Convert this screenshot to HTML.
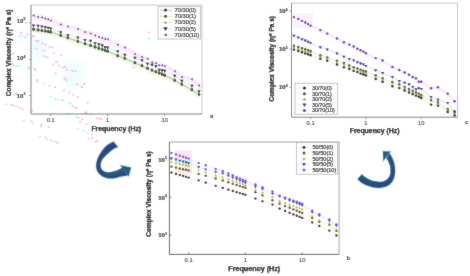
<!DOCTYPE html>
<html><head><meta charset="utf-8"><style>
html,body{margin:0;padding:0;background:#fff;}
svg{display:block;}
text{font-family:"Liberation Sans",Arial,sans-serif;fill:#222;}
.tk{font-size:6px;fill:#222;font-weight:bold;stroke:#222;stroke-width:0.12px;}
.sup{font-size:3.4px;}
.xk{font-weight:normal;font-size:5.8px;fill:#333;stroke:#333;stroke-width:0.1px;}
.ttl{font-size:6.9px;font-weight:bold;fill:#000;stroke:#000;stroke-width:0.25px;}
.yt{font-size:6.5px;}
.lg{font-size:5.6px;fill:#111;stroke:#111;stroke-width:0.15px;}
.lab{font-size:6px;font-weight:bold;fill:#111;}
</style></head><body>
<svg width="470" height="276" viewBox="0 0 470 276">
<defs><filter id="soft" x="0" y="0" width="470" height="276" filterUnits="userSpaceOnUse"><feConvolveMatrix order="3" kernelMatrix="1 2 1 2 28 2 1 2 1" divisor="40" edgeMode="duplicate"/></filter></defs>
<g filter="url(#soft)">
<rect width="470" height="276" fill="#fff"/>
<defs><filter id="gb" x="-20%" y="-20%" width="140%" height="140%"><feGaussianBlur stdDeviation="0.5"/></filter><filter id="gb2" x="-50%" y="-50%" width="200%" height="200%"><feGaussianBlur stdDeviation="3"/></filter></defs><g opacity="0.9" filter="url(#gb)">
<g filter="url(#gb2)"><rect x="16" y="34" width="14" height="5" fill="#e0fafa"/><rect x="32" y="38" width="14" height="20" fill="#e8fcfc"/><rect x="62" y="62" width="22" height="26" fill="#ecfcfc"/></g>
<ellipse cx="9" cy="54" rx="1.4" ry="0.9" fill="#a8f0f4"/>
<ellipse cx="12" cy="54" rx="1.4" ry="0.9" fill="#a8f0f4"/>
<ellipse cx="14" cy="65.7" rx="1.4" ry="0.9" fill="#a8f0f4"/>
<ellipse cx="17" cy="65.7" rx="1.4" ry="0.9" fill="#a8f0f4"/>
<ellipse cx="19.5" cy="65.9" rx="1.4" ry="0.9" fill="#a8f0f4"/>
<ellipse cx="29" cy="68.8" rx="1.4" ry="0.9" fill="#a8f0f4"/>
<ellipse cx="35.5" cy="70.2" rx="1.4" ry="0.9" fill="#a8f0f4"/>
<ellipse cx="37.7" cy="81.1" rx="1.4" ry="0.9" fill="#a8f0f4"/>
<ellipse cx="37.6" cy="81.7" rx="1.4" ry="0.9" fill="#a8f0f4"/>
<ellipse cx="44.1" cy="83.5" rx="1.4" ry="0.9" fill="#a8f0f4"/>
<ellipse cx="49.6" cy="85.7" rx="1.4" ry="0.9" fill="#a8f0f4"/>
<ellipse cx="50.7" cy="96.5" rx="1.4" ry="0.9" fill="#a8f0f4"/>
<ellipse cx="55" cy="98.7" rx="1.4" ry="0.9" fill="#a8f0f4"/>
<ellipse cx="58.3" cy="99.6" rx="1.4" ry="0.9" fill="#a8f0f4"/>
<ellipse cx="69.1" cy="103.5" rx="1.4" ry="0.9" fill="#a8f0f4"/>
<ellipse cx="68" cy="113.9" rx="1.4" ry="0.9" fill="#a8f0f4"/>
<ellipse cx="76.7" cy="117" rx="1.4" ry="0.9" fill="#a8f0f4"/>
<ellipse cx="6.5" cy="104.1" rx="1.4" ry="0.9" fill="#a8f0f4"/>
<ellipse cx="23.9" cy="120.7" rx="1.4" ry="0.9" fill="#a8f0f4"/>
<ellipse cx="32.6" cy="123.3" rx="1.4" ry="0.9" fill="#a8f0f4"/>
<ellipse cx="41.3" cy="126.5" rx="1.4" ry="0.9" fill="#a8f0f4"/>
<ellipse cx="40.2" cy="136.7" rx="1.4" ry="0.9" fill="#a8f0f4"/>
<ellipse cx="46.7" cy="139.6" rx="1.4" ry="0.9" fill="#a8f0f4"/>
<ellipse cx="54.3" cy="141.7" rx="1.4" ry="0.9" fill="#a8f0f4"/>
<ellipse cx="70.2" cy="103.3" rx="1.4" ry="0.9" fill="#a8f0f4"/>
<ellipse cx="69.1" cy="113.5" rx="1.4" ry="0.9" fill="#a8f0f4"/>
<ellipse cx="78.9" cy="117.8" rx="1.4" ry="0.9" fill="#a8f0f4"/>
<ellipse cx="77.8" cy="128.7" rx="1.4" ry="0.9" fill="#a8f0f4"/>
<ellipse cx="83.3" cy="130.4" rx="1.4" ry="0.9" fill="#a8f0f4"/>
<ellipse cx="87.6" cy="132.6" rx="1.4" ry="0.9" fill="#a8f0f4"/>
<ellipse cx="92" cy="134.3" rx="1.4" ry="0.9" fill="#a8f0f4"/>
<ellipse cx="57.2" cy="142.4" rx="1.4" ry="0.9" fill="#a8f0f4"/>
<ellipse cx="149" cy="38.5" rx="1.4" ry="0.9" fill="#a8f0f4"/>
<ellipse cx="14" cy="95" rx="1.4" ry="0.9" fill="#a8f0f4"/>
<ellipse cx="17" cy="95" rx="1.4" ry="0.9" fill="#a8f0f4"/>
<ellipse cx="20" cy="36" rx="1.4" ry="0.9" fill="#a8f0f4"/>
<ellipse cx="25" cy="37" rx="1.4" ry="0.9" fill="#a8f0f4"/>
<ellipse cx="26" cy="22.9" rx="1.3" ry="0.9" fill="#ffb0e8"/>
<ellipse cx="21" cy="32.8" rx="1.3" ry="0.9" fill="#ffb0e8"/>
<ellipse cx="27.5" cy="34.5" rx="1.3" ry="0.9" fill="#ffb0e8"/>
<ellipse cx="34" cy="36" rx="1.3" ry="0.9" fill="#ffb0e8"/>
<ellipse cx="36.2" cy="41" rx="1.3" ry="0.9" fill="#ffb0e8"/>
<ellipse cx="13.8" cy="53.3" rx="1.3" ry="0.9" fill="#ffb0e8"/>
<ellipse cx="32.9" cy="36.5" rx="1.3" ry="0.9" fill="#ffb0e8"/>
<ellipse cx="38" cy="40.9" rx="1.3" ry="0.9" fill="#ffb0e8"/>
<ellipse cx="42.3" cy="43.3" rx="1.3" ry="0.9" fill="#ffb0e8"/>
<ellipse cx="45.7" cy="44.8" rx="1.3" ry="0.9" fill="#ffb0e8"/>
<ellipse cx="49.6" cy="46.7" rx="1.3" ry="0.9" fill="#ffb0e8"/>
<ellipse cx="52.5" cy="47.4" rx="1.3" ry="0.9" fill="#ffb0e8"/>
<ellipse cx="36.5" cy="48.6" rx="1.3" ry="0.9" fill="#ffb0e8"/>
<ellipse cx="43.8" cy="50.6" rx="1.3" ry="0.9" fill="#ffb0e8"/>
<ellipse cx="53.9" cy="52.9" rx="1.3" ry="0.9" fill="#ffb0e8"/>
<ellipse cx="61.2" cy="54.9" rx="1.3" ry="0.9" fill="#ffb0e8"/>
<ellipse cx="44.5" cy="56.4" rx="1.3" ry="0.9" fill="#ffb0e8"/>
<ellipse cx="47.4" cy="57.5" rx="1.3" ry="0.9" fill="#ffb0e8"/>
<ellipse cx="56.1" cy="61.9" rx="1.3" ry="0.9" fill="#ffb0e8"/>
<ellipse cx="53.2" cy="64.5" rx="1.3" ry="0.9" fill="#ffb0e8"/>
<ellipse cx="59" cy="65.5" rx="1.3" ry="0.9" fill="#ffb0e8"/>
<ellipse cx="64.8" cy="67" rx="1.3" ry="0.9" fill="#ffb0e8"/>
<ellipse cx="34.3" cy="68.8" rx="1.3" ry="0.9" fill="#ffb0e8"/>
<ellipse cx="12.3" cy="64" rx="1.3" ry="0.9" fill="#ffb0e8"/>
<ellipse cx="29" cy="67.3" rx="1.3" ry="0.9" fill="#ffb0e8"/>
<ellipse cx="34.8" cy="68.8" rx="1.3" ry="0.9" fill="#ffb0e8"/>
<ellipse cx="37" cy="80" rx="1.3" ry="0.9" fill="#ffb0e8"/>
<ellipse cx="16" cy="93.4" rx="1.3" ry="0.9" fill="#ffb0e8"/>
<ellipse cx="57.2" cy="62.2" rx="1.3" ry="0.9" fill="#ffb0e8"/>
<ellipse cx="62.6" cy="67.6" rx="1.3" ry="0.9" fill="#ffb0e8"/>
<ellipse cx="67" cy="69.8" rx="1.3" ry="0.9" fill="#ffb0e8"/>
<ellipse cx="72.4" cy="70.9" rx="1.3" ry="0.9" fill="#ffb0e8"/>
<ellipse cx="75.7" cy="71.3" rx="1.3" ry="0.9" fill="#ffb0e8"/>
<ellipse cx="55.7" cy="73.5" rx="1.3" ry="0.9" fill="#ffb0e8"/>
<ellipse cx="64.8" cy="78.5" rx="1.3" ry="0.9" fill="#ffb0e8"/>
<ellipse cx="55" cy="87.2" rx="1.3" ry="0.9" fill="#ffb0e8"/>
<ellipse cx="63.7" cy="90.4" rx="1.3" ry="0.9" fill="#ffb0e8"/>
<ellipse cx="69.1" cy="92.6" rx="1.3" ry="0.9" fill="#ffb0e8"/>
<ellipse cx="73.5" cy="94.8" rx="1.3" ry="0.9" fill="#ffb0e8"/>
<ellipse cx="77.8" cy="97" rx="1.3" ry="0.9" fill="#ffb0e8"/>
<ellipse cx="84.3" cy="83.9" rx="1.3" ry="0.9" fill="#ffb0e8"/>
<ellipse cx="62.6" cy="100.2" rx="1.3" ry="0.9" fill="#ffb0e8"/>
<ellipse cx="72.4" cy="106" rx="1.3" ry="0.9" fill="#ffb0e8"/>
<ellipse cx="76.7" cy="107.8" rx="1.3" ry="0.9" fill="#ffb0e8"/>
<ellipse cx="85.4" cy="112.2" rx="1.3" ry="0.9" fill="#ffb0e8"/>
<ellipse cx="32.2" cy="110.4" rx="1.3" ry="0.9" fill="#ffb0e8"/>
<ellipse cx="66.5" cy="80" rx="1.3" ry="0.9" fill="#ffb0e8"/>
<ellipse cx="77.4" cy="84.3" rx="1.3" ry="0.9" fill="#ffb0e8"/>
<ellipse cx="81.7" cy="87" rx="1.3" ry="0.9" fill="#ffb0e8"/>
<ellipse cx="10.9" cy="104.8" rx="1.3" ry="0.9" fill="#ffb0e8"/>
<ellipse cx="13" cy="105.4" rx="1.3" ry="0.9" fill="#ffb0e8"/>
<ellipse cx="16.3" cy="106.3" rx="1.3" ry="0.9" fill="#ffb0e8"/>
<ellipse cx="19.6" cy="107.6" rx="1.3" ry="0.9" fill="#ffb0e8"/>
<ellipse cx="22.8" cy="109.1" rx="1.3" ry="0.9" fill="#ffb0e8"/>
<ellipse cx="31.5" cy="110.7" rx="1.3" ry="0.9" fill="#ffb0e8"/>
<ellipse cx="31.5" cy="121.1" rx="1.3" ry="0.9" fill="#ffb0e8"/>
<ellipse cx="41.3" cy="124.3" rx="1.3" ry="0.9" fill="#ffb0e8"/>
<ellipse cx="48.9" cy="127.2" rx="1.3" ry="0.9" fill="#ffb0e8"/>
<ellipse cx="45.7" cy="137.4" rx="1.3" ry="0.9" fill="#ffb0e8"/>
<ellipse cx="51.1" cy="140.7" rx="1.3" ry="0.9" fill="#ffb0e8"/>
<ellipse cx="57.6" cy="142.8" rx="1.3" ry="0.9" fill="#ffb0e8"/>
<ellipse cx="75.7" cy="107.6" rx="1.3" ry="0.9" fill="#ffb0e8"/>
<ellipse cx="87.6" cy="102.6" rx="1.3" ry="0.9" fill="#ffb0e8"/>
<ellipse cx="86.5" cy="113.5" rx="1.3" ry="0.9" fill="#ffb0e8"/>
<ellipse cx="90.9" cy="114.1" rx="1.3" ry="0.9" fill="#ffb0e8"/>
<ellipse cx="82.2" cy="119.6" rx="1.3" ry="0.9" fill="#ffb0e8"/>
<ellipse cx="97.4" cy="118.5" rx="1.3" ry="0.9" fill="#ffb0e8"/>
<ellipse cx="101.7" cy="119.1" rx="1.3" ry="0.9" fill="#ffb0e8"/>
<ellipse cx="80" cy="122.2" rx="1.3" ry="0.9" fill="#ffb0e8"/>
<ellipse cx="86.5" cy="124.3" rx="1.3" ry="0.9" fill="#ffb0e8"/>
<ellipse cx="88.7" cy="139.1" rx="1.3" ry="0.9" fill="#ffb0e8"/>
<ellipse cx="95.2" cy="141.7" rx="1.3" ry="0.9" fill="#ffb0e8"/>
<ellipse cx="133.5" cy="67.5" rx="1.3" ry="0.9" fill="#ffb0e8"/>
<ellipse cx="149" cy="32.3" rx="1.3" ry="0.9" fill="#ffb0e8"/>
<ellipse cx="100" cy="118.7" rx="1.3" ry="0.9" fill="#ffb0e8"/>
<ellipse cx="97" cy="141" rx="1.3" ry="0.9" fill="#ffb0e8"/>
<ellipse cx="92" cy="138" rx="1.3" ry="0.9" fill="#ffb0e8"/>
</g>
<polyline points="33.54,16.10 38.05,17.50 41.87,18.00 45.18,18.90 48.09,19.80 50.70,20.90 60.74,24.90 67.86,26.90 77.90,29.50 85.02,32.50 90.54,34.00 95.05,36.00 98.87,37.50 102.18,38.40 105.09,39.40 107.70,39.80 117.74,45.20 124.86,48.10 134.90,54.50 142.02,57.50 147.54,59.30 152.05,63.00 155.87,63.80 159.18,65.80 162.09,65.80 164.70,66.50 174.74,71.80 181.86,77.40 191.90,79.80 199.02,86.00" fill="none" stroke="#fcf0fa" stroke-width="6" stroke-linejoin="round" stroke-linecap="round"/>
<polyline points="33.54,31.00 38.05,31.71 41.87,32.31 45.18,32.83 48.09,33.29 50.70,33.70 60.74,37.15 67.86,39.60 77.90,43.05 85.02,45.50 90.54,47.30 95.05,48.77 98.87,50.02 102.18,51.10 105.09,52.05 107.70,52.90 117.74,57.50 124.86,60.10 134.90,64.50 142.02,67.50 147.54,70.10 152.05,71.91 155.87,73.45 159.18,74.78 162.09,75.95 164.70,77.00 174.74,82.10 181.86,86.00 191.90,91.50 199.02,96.10" fill="none" stroke="#f4f9ea" stroke-width="4" stroke-linejoin="round" stroke-linecap="round"/>
<polyline points="33.54,29.50 38.05,30.21 41.87,30.81 45.18,31.33 48.09,31.79 50.70,32.20 60.74,35.65 67.86,38.10 77.90,41.55 85.02,44.00 90.54,45.80 95.05,47.27 98.87,48.52 102.18,49.60 105.09,50.55 107.70,51.40 117.74,56.00 124.86,58.60 134.90,63.00 142.02,66.00 147.54,68.60 152.05,70.41 155.87,71.95 159.18,73.28 162.09,74.45 164.70,75.50 174.74,80.60 181.86,84.50 191.90,90.00 199.02,94.60" fill="none" stroke="#999" stroke-width="0.6"/>
<polyline points="33.54,28.80 38.05,29.51 41.87,30.11 45.18,30.63 48.09,31.09 50.70,31.50 60.74,34.95 67.86,37.40 77.90,40.85 85.02,43.30 90.54,45.10 95.05,46.57 98.87,47.82 102.18,48.90 105.09,49.85 107.70,50.70 117.74,55.30 124.86,57.90 134.90,62.30 142.02,65.30 147.54,67.90 152.05,69.71 155.87,71.25 159.18,72.58 162.09,73.75 164.70,74.80 174.74,79.90 181.86,83.80 191.90,89.30 199.02,93.90" fill="none" stroke="#b8c8a0" stroke-width="0.6"/>
<polyline points="33.54,28.20 38.05,28.91 41.87,29.51 45.18,30.03 48.09,30.49 50.70,30.90 60.74,34.35 67.86,36.80 77.90,40.25 85.02,42.70 90.54,44.50 95.05,45.97 98.87,47.22 102.18,48.30 105.09,49.25 107.70,50.10 117.74,54.70 124.86,57.30 134.90,61.70 142.02,64.70 147.54,67.30 152.05,69.11 155.87,70.65 159.18,71.98 162.09,73.15 164.70,74.20 174.74,79.30 181.86,83.20 191.90,88.70 199.02,93.30" fill="none" stroke="#d8eab8" stroke-width="0.6"/>
<polyline points="33.54,25.60 38.05,26.00 41.87,26.60 45.18,27.20 48.09,27.80 50.70,28.60 60.74,32.30 67.86,35.10 77.90,37.60 85.02,40.10 90.54,41.00 95.05,43.30 98.87,44.40 102.18,45.40 105.09,47.20 107.70,47.70 117.74,51.50 124.86,55.00 134.90,58.00 142.02,60.50 147.54,64.00 152.05,65.00 155.87,66.50 159.18,70.00 162.09,70.50 164.70,71.00 174.74,76.00 181.86,81.00 191.90,85.90 199.02,91.30" fill="none" stroke="#d0d4f0" stroke-width="0.6"/>
<polyline points="33.54,15.60 38.05,17.00 41.87,17.50 45.18,18.40 48.09,19.30 50.70,20.40 60.74,24.40 67.86,26.40 77.90,29.00 85.02,32.00 90.54,33.50 95.05,35.50 98.87,37.00 102.18,37.90 105.09,38.90 107.70,39.30 117.74,44.70 124.86,47.60 134.90,54.00 142.02,57.00 147.54,58.80 152.05,62.50 155.87,63.30 159.18,65.30 162.09,65.30 164.70,66.00 174.74,71.30 181.86,76.90 191.90,79.30 199.02,85.50" fill="none" stroke="#f2cdef" stroke-width="0.6"/>
<circle cx="33.54" cy="29.50" r="1.20" fill="#111"/>
<circle cx="38.05" cy="30.21" r="1.20" fill="#111"/>
<circle cx="41.87" cy="30.81" r="1.20" fill="#111"/>
<circle cx="45.18" cy="31.33" r="1.20" fill="#111"/>
<circle cx="48.09" cy="31.79" r="1.20" fill="#111"/>
<circle cx="50.70" cy="32.20" r="1.20" fill="#111"/>
<circle cx="60.74" cy="35.65" r="1.20" fill="#111"/>
<circle cx="67.86" cy="38.10" r="1.20" fill="#111"/>
<circle cx="77.90" cy="41.55" r="1.20" fill="#111"/>
<circle cx="85.02" cy="44.00" r="1.20" fill="#111"/>
<circle cx="90.54" cy="45.80" r="1.20" fill="#111"/>
<circle cx="95.05" cy="47.27" r="1.20" fill="#111"/>
<circle cx="98.87" cy="48.52" r="1.20" fill="#111"/>
<circle cx="102.18" cy="49.60" r="1.20" fill="#111"/>
<circle cx="105.09" cy="50.55" r="1.20" fill="#111"/>
<circle cx="107.70" cy="51.40" r="1.20" fill="#111"/>
<circle cx="117.74" cy="56.00" r="1.20" fill="#111"/>
<circle cx="124.86" cy="58.60" r="1.20" fill="#111"/>
<circle cx="134.90" cy="63.00" r="1.20" fill="#111"/>
<circle cx="142.02" cy="66.00" r="1.20" fill="#111"/>
<circle cx="147.54" cy="68.60" r="1.20" fill="#111"/>
<circle cx="152.05" cy="70.41" r="1.20" fill="#111"/>
<circle cx="155.87" cy="71.95" r="1.20" fill="#111"/>
<circle cx="159.18" cy="73.28" r="1.20" fill="#111"/>
<circle cx="162.09" cy="74.45" r="1.20" fill="#111"/>
<circle cx="164.70" cy="75.50" r="1.20" fill="#111"/>
<circle cx="174.74" cy="80.60" r="1.20" fill="#111"/>
<circle cx="181.86" cy="84.50" r="1.20" fill="#111"/>
<circle cx="191.90" cy="90.00" r="1.20" fill="#111"/>
<circle cx="199.02" cy="94.60" r="1.20" fill="#111"/>
<circle cx="33.54" cy="28.80" r="1.20" fill="#3a4a16"/>
<circle cx="38.05" cy="29.51" r="1.20" fill="#3a4a16"/>
<circle cx="41.87" cy="30.11" r="1.20" fill="#3a4a16"/>
<circle cx="45.18" cy="30.63" r="1.20" fill="#3a4a16"/>
<circle cx="48.09" cy="31.09" r="1.20" fill="#3a4a16"/>
<circle cx="50.70" cy="31.50" r="1.20" fill="#3a4a16"/>
<circle cx="60.74" cy="34.95" r="1.20" fill="#3a4a16"/>
<circle cx="67.86" cy="37.40" r="1.20" fill="#3a4a16"/>
<circle cx="77.90" cy="40.85" r="1.20" fill="#3a4a16"/>
<circle cx="85.02" cy="43.30" r="1.20" fill="#3a4a16"/>
<circle cx="90.54" cy="45.10" r="1.20" fill="#3a4a16"/>
<circle cx="95.05" cy="46.57" r="1.20" fill="#3a4a16"/>
<circle cx="98.87" cy="47.82" r="1.20" fill="#3a4a16"/>
<circle cx="102.18" cy="48.90" r="1.20" fill="#3a4a16"/>
<circle cx="105.09" cy="49.85" r="1.20" fill="#3a4a16"/>
<circle cx="107.70" cy="50.70" r="1.20" fill="#3a4a16"/>
<circle cx="117.74" cy="55.30" r="1.20" fill="#3a4a16"/>
<circle cx="124.86" cy="57.90" r="1.20" fill="#3a4a16"/>
<circle cx="134.90" cy="62.30" r="1.20" fill="#3a4a16"/>
<circle cx="142.02" cy="65.30" r="1.20" fill="#3a4a16"/>
<circle cx="147.54" cy="67.90" r="1.20" fill="#3a4a16"/>
<circle cx="152.05" cy="69.71" r="1.20" fill="#3a4a16"/>
<circle cx="155.87" cy="71.25" r="1.20" fill="#3a4a16"/>
<circle cx="159.18" cy="72.58" r="1.20" fill="#3a4a16"/>
<circle cx="162.09" cy="73.75" r="1.20" fill="#3a4a16"/>
<circle cx="164.70" cy="74.80" r="1.20" fill="#3a4a16"/>
<circle cx="174.74" cy="79.90" r="1.20" fill="#3a4a16"/>
<circle cx="181.86" cy="83.80" r="1.20" fill="#3a4a16"/>
<circle cx="191.90" cy="89.30" r="1.20" fill="#3a4a16"/>
<circle cx="199.02" cy="93.90" r="1.20" fill="#3a4a16"/>
<polygon points="33.54,27.00 32.39,29.00 34.69,29.00" fill="#5e8a28"/>
<polygon points="38.05,27.71 36.90,29.71 39.20,29.71" fill="#5e8a28"/>
<polygon points="41.87,28.31 40.72,30.31 43.02,30.31" fill="#5e8a28"/>
<polygon points="45.18,28.83 44.03,30.83 46.33,30.83" fill="#5e8a28"/>
<polygon points="48.09,29.29 46.94,31.29 49.24,31.29" fill="#5e8a28"/>
<polygon points="50.70,29.70 49.55,31.70 51.85,31.70" fill="#5e8a28"/>
<polygon points="60.74,33.15 59.59,35.15 61.89,35.15" fill="#5e8a28"/>
<polygon points="67.86,35.60 66.71,37.60 69.01,37.60" fill="#5e8a28"/>
<polygon points="77.90,39.05 76.75,41.05 79.05,41.05" fill="#5e8a28"/>
<polygon points="85.02,41.50 83.87,43.50 86.17,43.50" fill="#5e8a28"/>
<polygon points="90.54,43.30 89.39,45.30 91.69,45.30" fill="#5e8a28"/>
<polygon points="95.05,44.77 93.90,46.77 96.20,46.77" fill="#5e8a28"/>
<polygon points="98.87,46.02 97.72,48.02 100.02,48.02" fill="#5e8a28"/>
<polygon points="102.18,47.10 101.03,49.10 103.33,49.10" fill="#5e8a28"/>
<polygon points="105.09,48.05 103.94,50.05 106.24,50.05" fill="#5e8a28"/>
<polygon points="107.70,48.90 106.55,50.90 108.85,50.90" fill="#5e8a28"/>
<polygon points="117.74,53.50 116.59,55.50 118.89,55.50" fill="#5e8a28"/>
<polygon points="124.86,56.10 123.71,58.10 126.01,58.10" fill="#5e8a28"/>
<polygon points="134.90,60.50 133.75,62.50 136.05,62.50" fill="#5e8a28"/>
<polygon points="142.02,63.50 140.87,65.50 143.17,65.50" fill="#5e8a28"/>
<polygon points="147.54,66.10 146.39,68.10 148.69,68.10" fill="#5e8a28"/>
<polygon points="152.05,67.91 150.90,69.91 153.20,69.91" fill="#5e8a28"/>
<polygon points="155.87,69.45 154.72,71.45 157.02,71.45" fill="#5e8a28"/>
<polygon points="159.18,70.78 158.03,72.78 160.33,72.78" fill="#5e8a28"/>
<polygon points="162.09,71.95 160.94,73.95 163.24,73.95" fill="#5e8a28"/>
<polygon points="164.70,73.00 163.55,75.00 165.85,75.00" fill="#5e8a28"/>
<polygon points="174.74,78.10 173.59,80.10 175.89,80.10" fill="#5e8a28"/>
<polygon points="181.86,82.00 180.71,84.00 183.01,84.00" fill="#5e8a28"/>
<polygon points="191.90,87.50 190.75,89.50 193.05,89.50" fill="#5e8a28"/>
<polygon points="199.02,92.10 197.87,94.10 200.17,94.10" fill="#5e8a28"/>
<polygon points="33.54,27.34 31.87,24.44 35.21,24.44" fill="#10104e"/>
<polygon points="38.05,27.74 36.39,24.84 39.72,24.84" fill="#10104e"/>
<polygon points="41.87,28.34 40.20,25.44 43.54,25.44" fill="#10104e"/>
<polygon points="45.18,28.94 43.51,26.04 46.84,26.04" fill="#10104e"/>
<polygon points="48.09,29.54 46.42,26.64 49.76,26.64" fill="#10104e"/>
<polygon points="50.70,30.34 49.03,27.44 52.37,27.44" fill="#10104e"/>
<polygon points="60.74,34.04 59.07,31.14 62.40,31.14" fill="#10104e"/>
<polygon points="67.86,36.84 66.19,33.94 69.53,33.94" fill="#10104e"/>
<polygon points="77.90,39.34 76.23,36.44 79.56,36.44" fill="#10104e"/>
<polygon points="85.02,41.84 83.35,38.94 86.68,38.94" fill="#10104e"/>
<polygon points="90.54,42.74 88.87,39.84 92.21,39.84" fill="#10104e"/>
<polygon points="95.05,45.04 93.39,42.14 96.72,42.14" fill="#10104e"/>
<polygon points="98.87,46.14 97.20,43.24 100.54,43.24" fill="#10104e"/>
<polygon points="102.18,47.14 100.51,44.24 103.84,44.24" fill="#10104e"/>
<polygon points="105.09,48.94 103.42,46.04 106.76,46.04" fill="#10104e"/>
<polygon points="107.70,49.44 106.03,46.54 109.37,46.54" fill="#10104e"/>
<polygon points="117.74,53.24 116.07,50.34 119.40,50.34" fill="#10104e"/>
<polygon points="124.86,56.74 123.19,53.84 126.53,53.84" fill="#10104e"/>
<polygon points="134.90,59.74 133.23,56.84 136.56,56.84" fill="#10104e"/>
<polygon points="142.02,62.24 140.35,59.34 143.68,59.34" fill="#10104e"/>
<polygon points="147.54,65.74 145.87,62.84 149.21,62.84" fill="#10104e"/>
<polygon points="152.05,66.74 150.39,63.84 153.72,63.84" fill="#10104e"/>
<polygon points="155.87,68.24 154.20,65.34 157.54,65.34" fill="#10104e"/>
<polygon points="159.18,71.74 157.51,68.84 160.84,68.84" fill="#10104e"/>
<polygon points="162.09,72.24 160.42,69.34 163.76,69.34" fill="#10104e"/>
<polygon points="164.70,72.74 163.03,69.84 166.37,69.84" fill="#10104e"/>
<polygon points="174.74,77.74 173.07,74.84 176.40,74.84" fill="#10104e"/>
<polygon points="181.86,82.74 180.19,79.84 183.53,79.84" fill="#10104e"/>
<polygon points="191.90,87.64 190.23,84.74 193.56,84.74" fill="#10104e"/>
<polygon points="199.02,93.04 197.35,90.14 200.68,90.14" fill="#10104e"/>
<polygon points="32.22,15.60 34.42,14.33 34.42,16.86" fill="#5a2e8a"/>
<polygon points="36.73,17.00 38.93,15.73 38.93,18.27" fill="#5a2e8a"/>
<polygon points="40.55,17.50 42.75,16.23 42.75,18.77" fill="#5a2e8a"/>
<polygon points="43.86,18.40 46.06,17.13 46.06,19.66" fill="#5a2e8a"/>
<polygon points="46.77,19.30 48.97,18.04 48.97,20.57" fill="#5a2e8a"/>
<polygon points="49.38,20.40 51.58,19.13 51.58,21.66" fill="#5a2e8a"/>
<polygon points="59.42,24.40 61.62,23.13 61.62,25.66" fill="#5a2e8a"/>
<polygon points="66.54,26.40 68.74,25.13 68.74,27.66" fill="#5a2e8a"/>
<polygon points="76.58,29.00 78.78,27.73 78.78,30.27" fill="#5a2e8a"/>
<polygon points="83.70,32.00 85.90,30.73 85.90,33.27" fill="#5a2e8a"/>
<polygon points="89.22,33.50 91.42,32.23 91.42,34.77" fill="#5a2e8a"/>
<polygon points="93.73,35.50 95.93,34.23 95.93,36.77" fill="#5a2e8a"/>
<polygon points="97.55,37.00 99.75,35.73 99.75,38.27" fill="#5a2e8a"/>
<polygon points="100.86,37.90 103.06,36.63 103.06,39.16" fill="#5a2e8a"/>
<polygon points="103.77,38.90 105.97,37.63 105.97,40.16" fill="#5a2e8a"/>
<polygon points="106.38,39.30 108.58,38.03 108.58,40.56" fill="#5a2e8a"/>
<polygon points="116.42,44.70 118.62,43.44 118.62,45.97" fill="#5a2e8a"/>
<polygon points="123.54,47.60 125.74,46.34 125.74,48.87" fill="#5a2e8a"/>
<polygon points="133.58,54.00 135.78,52.73 135.78,55.27" fill="#5a2e8a"/>
<polygon points="140.70,57.00 142.90,55.73 142.90,58.27" fill="#5a2e8a"/>
<polygon points="146.22,58.80 148.42,57.53 148.42,60.06" fill="#5a2e8a"/>
<polygon points="150.73,62.50 152.93,61.23 152.93,63.77" fill="#5a2e8a"/>
<polygon points="154.55,63.30 156.75,62.03 156.75,64.56" fill="#5a2e8a"/>
<polygon points="157.86,65.30 160.06,64.03 160.06,66.56" fill="#5a2e8a"/>
<polygon points="160.77,65.30 162.97,64.03 162.97,66.56" fill="#5a2e8a"/>
<polygon points="163.38,66.00 165.58,64.73 165.58,67.27" fill="#5a2e8a"/>
<polygon points="173.42,71.30 175.62,70.03 175.62,72.56" fill="#5a2e8a"/>
<polygon points="180.54,76.90 182.74,75.64 182.74,78.17" fill="#5a2e8a"/>
<polygon points="190.58,79.30 192.78,78.03 192.78,80.56" fill="#5a2e8a"/>
<polygon points="197.70,85.50 199.90,84.23 199.90,86.77" fill="#5a2e8a"/>
<path d="M31,5H202V114" fill="none" stroke="#c4c4c4" stroke-width="0.9"/>
<path d="M31,5V114H202" fill="none" stroke="#808080" stroke-width="1"/>
<line x1="50.70" y1="114" x2="50.70" y2="116" stroke="#808080" stroke-width="0.8"/>
<text x="50.70" y="122" class="tk xk" text-anchor="middle">0.1</text>
<line x1="107.70" y1="114" x2="107.70" y2="116" stroke="#808080" stroke-width="0.8"/>
<text x="107.70" y="122" class="tk xk" text-anchor="middle">1</text>
<line x1="164.70" y1="114" x2="164.70" y2="116" stroke="#808080" stroke-width="0.8"/>
<text x="164.70" y="122" class="tk xk" text-anchor="middle">10</text>
<line x1="31" y1="22.9" x2="29" y2="22.9" stroke="#808080" stroke-width="0.8"/>
<text x="16.7" y="22.70" class="tk">10<tspan class="sup" dy="-2.4">5</tspan></text>
<line x1="31" y1="59.4" x2="29" y2="59.4" stroke="#808080" stroke-width="0.8"/>
<text x="16.7" y="60.40" class="tk">10<tspan class="sup" dy="-2.4">4</tspan></text>
<line x1="31" y1="95.6" x2="29" y2="95.6" stroke="#808080" stroke-width="0.8"/>
<text x="16.7" y="97.60" class="tk">10<tspan class="sup" dy="-2.4">3</tspan></text>
<text x="91.4" y="131" class="ttl">Frequency (Hz)</text>
<text transform="translate(11.1,52.8) rotate(-90)" class="ttl yt" style="font-size:6.6px" text-anchor="middle">Complex Viscosity (η* Pa s)</text>
<text x="210" y="118" class="lab">a</text>
<rect x="158" y="6.5" width="42.5" height="32.5" fill="#fff" stroke="#aaa" stroke-width="0.7"/>
<line x1="160" y1="10.10" x2="172" y2="10.10" stroke="#999" stroke-width="0.6"/>
<circle cx="165.50" cy="10.10" r="1.50" fill="#111"/>
<text x="174.5" y="11.90" class="lg" style="font-size:5.75px">70/30(0)</text>
<line x1="160" y1="16.30" x2="172" y2="16.30" stroke="#b8c8a0" stroke-width="0.6"/>
<circle cx="165.50" cy="16.30" r="1.50" fill="#3a4a16"/>
<text x="174.5" y="18.10" class="lg" style="font-size:5.75px">70/30(1)</text>
<line x1="160" y1="22.50" x2="172" y2="22.50" stroke="#d8eab8" stroke-width="0.6"/>
<polygon points="165.50,21.00 164.06,23.50 166.94,23.50" fill="#5e8a28"/>
<text x="174.5" y="24.30" class="lg" style="font-size:5.75px">70/30(2)</text>
<line x1="160" y1="28.70" x2="172" y2="28.70" stroke="#d0d4f0" stroke-width="0.6"/>
<polygon points="165.50,30.88 163.42,27.25 167.58,27.25" fill="#10104e"/>
<text x="174.5" y="30.50" class="lg" style="font-size:5.75px">70/30(5)</text>
<line x1="160" y1="34.90" x2="172" y2="34.90" stroke="#f2cdef" stroke-width="0.6"/>
<polygon points="163.85,34.90 166.60,33.32 166.60,36.48" fill="#5a2e8a"/>
<text x="174.5" y="36.70" class="lg" style="font-size:5.75px">70/30(10)</text>
<rect x="293" y="13" width="20" height="15" fill="#fdf1fb"/>
<polyline points="293.94,17.40 298.32,19.30 302.03,21.20 305.24,22.80 308.07,24.40 310.60,25.90 320.35,30.40 327.26,33.90 337.01,38.80 343.92,42.60 349.29,44.90 353.67,46.80 357.38,49.10 360.59,50.60 363.42,51.90 365.95,53.50 375.70,58.40 382.61,60.80 392.36,67.30 399.27,70.30 404.64,72.80 409.02,75.10 412.73,77.30 415.94,78.60 418.77,82.00 421.30,82.00 431.05,88.60 437.96,87.50 447.71,94.00 454.62,101.60" fill="none" stroke="#fdf3fc" stroke-width="4" stroke-linejoin="round" stroke-linecap="round"/>
<polyline points="293.94,35.80 298.32,37.69 302.03,39.30 305.24,40.68 308.07,41.91 310.60,43.00 320.35,47.40 327.26,49.60 337.01,53.60 343.92,56.90 349.29,59.10 353.67,60.50 357.38,62.30 360.59,63.60 363.42,64.50 365.95,66.00 375.70,70.30 382.61,73.20 392.36,77.20 399.27,81.20 404.64,82.80 409.02,84.30 412.73,87.00 415.94,89.30 418.77,88.30 421.30,89.00 431.05,97.00 437.96,99.80 447.71,103.00 454.62,111.70" fill="none" stroke="#f7f7fd" stroke-width="3" stroke-linejoin="round" stroke-linecap="round"/>
<polyline points="293.94,49.60 298.32,51.07 302.03,52.32 305.24,53.40 308.07,54.35 310.60,55.20 320.35,58.70 327.26,60.70 337.01,64.50 343.92,67.20 349.29,69.00 353.67,70.90 357.38,72.10 360.59,73.60 363.42,74.50 365.95,75.40 375.70,79.00 382.61,81.70 392.36,86.30 399.27,88.10 404.64,90.51 409.02,92.48 412.73,94.15 415.94,95.59 418.77,96.86 421.30,98.00 431.05,104.60 437.96,105.60 447.71,112.00 454.62,115.40" fill="none" stroke="#f4d4dc" stroke-width="0.6"/>
<polyline points="293.94,45.70 298.32,47.07 302.03,48.22 305.24,49.23 308.07,50.11 310.60,50.90 320.35,55.20 327.26,57.40 337.01,60.60 343.92,63.00 349.29,65.40 353.67,67.20 357.38,68.40 360.59,69.70 363.42,70.80 365.95,71.50 375.70,75.20 382.61,78.10 392.36,82.00 399.27,84.20 404.64,86.83 409.02,88.98 412.73,90.80 415.94,92.37 418.77,93.76 421.30,95.00 431.05,100.00 437.96,102.50 447.71,109.00 454.62,112.00" fill="none" stroke="#f0dcc8" stroke-width="0.6"/>
<polyline points="293.94,47.40 298.32,48.74 302.03,49.88 305.24,50.86 308.07,51.72 310.60,52.50 320.35,56.00 327.26,58.40 337.01,61.80 343.92,64.20 349.29,66.60 353.67,68.40 357.38,69.60 360.59,70.90 363.42,72.00 365.95,72.70 375.70,76.40 382.61,79.30 392.36,83.20 399.27,85.40 404.64,87.98 409.02,90.09 412.73,91.87 415.94,93.42 418.77,94.78 421.30,96.00 431.05,100.90 437.96,103.50 447.71,110.00 454.62,113.00" fill="none" stroke="#dcefc8" stroke-width="0.6"/>
<polyline points="293.94,35.80 298.32,37.69 302.03,39.30 305.24,40.68 308.07,41.91 310.60,43.00 320.35,47.40 327.26,49.60 337.01,53.60 343.92,56.90 349.29,59.10 353.67,60.50 357.38,62.30 360.59,63.60 363.42,64.50 365.95,66.00 375.70,70.30 382.61,73.20 392.36,77.20 399.27,81.20 404.64,82.80 409.02,84.30 412.73,87.00 415.94,89.30 418.77,88.30 421.30,89.00 431.05,97.00 437.96,99.80 447.71,103.00 454.62,111.70" fill="none" stroke="#d8dcf6" stroke-width="0.6"/>
<polyline points="293.94,17.10 298.32,19.00 302.03,20.90 305.24,22.50 308.07,24.10 310.60,25.60 320.35,30.10 327.26,33.60 337.01,38.50 343.92,42.30 349.29,44.60 353.67,46.50 357.38,48.80 360.59,50.30 363.42,51.60 365.95,53.20 375.70,58.10 382.61,60.50 392.36,67.00 399.27,70.00 404.64,72.50 409.02,74.80 412.73,77.00 415.94,78.30 418.77,81.70 421.30,81.70 431.05,88.30 437.96,87.20 447.71,93.70 454.62,101.30" fill="none" stroke="#f6d0f2" stroke-width="0.6"/>
<circle cx="293.94" cy="49.60" r="1.20" fill="#000"/>
<circle cx="298.32" cy="51.07" r="1.20" fill="#000"/>
<circle cx="302.03" cy="52.32" r="1.20" fill="#000"/>
<circle cx="305.24" cy="53.40" r="1.20" fill="#000"/>
<circle cx="308.07" cy="54.35" r="1.20" fill="#000"/>
<circle cx="310.60" cy="55.20" r="1.20" fill="#000"/>
<circle cx="320.35" cy="58.70" r="1.20" fill="#000"/>
<circle cx="327.26" cy="60.70" r="1.20" fill="#000"/>
<circle cx="337.01" cy="64.50" r="1.20" fill="#000"/>
<circle cx="343.92" cy="67.20" r="1.20" fill="#000"/>
<circle cx="349.29" cy="69.00" r="1.20" fill="#000"/>
<circle cx="353.67" cy="70.90" r="1.20" fill="#000"/>
<circle cx="357.38" cy="72.10" r="1.20" fill="#000"/>
<circle cx="360.59" cy="73.60" r="1.20" fill="#000"/>
<circle cx="363.42" cy="74.50" r="1.20" fill="#000"/>
<circle cx="365.95" cy="75.40" r="1.20" fill="#000"/>
<circle cx="375.70" cy="79.00" r="1.20" fill="#000"/>
<circle cx="382.61" cy="81.70" r="1.20" fill="#000"/>
<circle cx="392.36" cy="86.30" r="1.20" fill="#000"/>
<circle cx="399.27" cy="88.10" r="1.20" fill="#000"/>
<circle cx="404.64" cy="90.51" r="1.20" fill="#000"/>
<circle cx="409.02" cy="92.48" r="1.20" fill="#000"/>
<circle cx="412.73" cy="94.15" r="1.20" fill="#000"/>
<circle cx="415.94" cy="95.59" r="1.20" fill="#000"/>
<circle cx="418.77" cy="96.86" r="1.20" fill="#000"/>
<circle cx="421.30" cy="98.00" r="1.20" fill="#000"/>
<circle cx="431.05" cy="104.60" r="1.20" fill="#000"/>
<circle cx="437.96" cy="105.60" r="1.20" fill="#000"/>
<circle cx="447.71" cy="112.00" r="1.20" fill="#000"/>
<circle cx="454.62" cy="115.40" r="1.20" fill="#000"/>
<circle cx="293.94" cy="45.70" r="1.20" fill="#4a3c18"/>
<circle cx="298.32" cy="47.07" r="1.20" fill="#4a3c18"/>
<circle cx="302.03" cy="48.22" r="1.20" fill="#4a3c18"/>
<circle cx="305.24" cy="49.23" r="1.20" fill="#4a3c18"/>
<circle cx="308.07" cy="50.11" r="1.20" fill="#4a3c18"/>
<circle cx="310.60" cy="50.90" r="1.20" fill="#4a3c18"/>
<circle cx="320.35" cy="55.20" r="1.20" fill="#4a3c18"/>
<circle cx="327.26" cy="57.40" r="1.20" fill="#4a3c18"/>
<circle cx="337.01" cy="60.60" r="1.20" fill="#4a3c18"/>
<circle cx="343.92" cy="63.00" r="1.20" fill="#4a3c18"/>
<circle cx="349.29" cy="65.40" r="1.20" fill="#4a3c18"/>
<circle cx="353.67" cy="67.20" r="1.20" fill="#4a3c18"/>
<circle cx="357.38" cy="68.40" r="1.20" fill="#4a3c18"/>
<circle cx="360.59" cy="69.70" r="1.20" fill="#4a3c18"/>
<circle cx="363.42" cy="70.80" r="1.20" fill="#4a3c18"/>
<circle cx="365.95" cy="71.50" r="1.20" fill="#4a3c18"/>
<circle cx="375.70" cy="75.20" r="1.20" fill="#4a3c18"/>
<circle cx="382.61" cy="78.10" r="1.20" fill="#4a3c18"/>
<circle cx="392.36" cy="82.00" r="1.20" fill="#4a3c18"/>
<circle cx="399.27" cy="84.20" r="1.20" fill="#4a3c18"/>
<circle cx="404.64" cy="86.83" r="1.20" fill="#4a3c18"/>
<circle cx="409.02" cy="88.98" r="1.20" fill="#4a3c18"/>
<circle cx="412.73" cy="90.80" r="1.20" fill="#4a3c18"/>
<circle cx="415.94" cy="92.37" r="1.20" fill="#4a3c18"/>
<circle cx="418.77" cy="93.76" r="1.20" fill="#4a3c18"/>
<circle cx="421.30" cy="95.00" r="1.20" fill="#4a3c18"/>
<circle cx="431.05" cy="100.00" r="1.20" fill="#4a3c18"/>
<circle cx="437.96" cy="102.50" r="1.20" fill="#4a3c18"/>
<circle cx="447.71" cy="109.00" r="1.20" fill="#4a3c18"/>
<circle cx="454.62" cy="112.00" r="1.20" fill="#4a3c18"/>
<polygon points="293.94,45.96 292.56,48.36 295.32,48.36" fill="#78a83a"/>
<polygon points="298.32,47.30 296.94,49.70 299.70,49.70" fill="#78a83a"/>
<polygon points="302.03,48.44 300.65,50.84 303.41,50.84" fill="#78a83a"/>
<polygon points="305.24,49.42 303.86,51.82 306.62,51.82" fill="#78a83a"/>
<polygon points="308.07,50.28 306.69,52.68 309.45,52.68" fill="#78a83a"/>
<polygon points="310.60,51.06 309.22,53.46 311.98,53.46" fill="#78a83a"/>
<polygon points="320.35,54.56 318.97,56.96 321.73,56.96" fill="#78a83a"/>
<polygon points="327.26,56.96 325.88,59.36 328.64,59.36" fill="#78a83a"/>
<polygon points="337.01,60.36 335.63,62.76 338.39,62.76" fill="#78a83a"/>
<polygon points="343.92,62.76 342.54,65.16 345.30,65.16" fill="#78a83a"/>
<polygon points="349.29,65.16 347.91,67.56 350.67,67.56" fill="#78a83a"/>
<polygon points="353.67,66.96 352.29,69.36 355.05,69.36" fill="#78a83a"/>
<polygon points="357.38,68.16 356.00,70.56 358.76,70.56" fill="#78a83a"/>
<polygon points="360.59,69.46 359.21,71.86 361.97,71.86" fill="#78a83a"/>
<polygon points="363.42,70.56 362.04,72.96 364.80,72.96" fill="#78a83a"/>
<polygon points="365.95,71.26 364.57,73.66 367.33,73.66" fill="#78a83a"/>
<polygon points="375.70,74.96 374.32,77.36 377.08,77.36" fill="#78a83a"/>
<polygon points="382.61,77.86 381.23,80.26 383.99,80.26" fill="#78a83a"/>
<polygon points="392.36,81.76 390.98,84.16 393.74,84.16" fill="#78a83a"/>
<polygon points="399.27,83.96 397.89,86.36 400.65,86.36" fill="#78a83a"/>
<polygon points="404.64,86.54 403.26,88.94 406.02,88.94" fill="#78a83a"/>
<polygon points="409.02,88.65 407.64,91.05 410.40,91.05" fill="#78a83a"/>
<polygon points="412.73,90.43 411.35,92.83 414.11,92.83" fill="#78a83a"/>
<polygon points="415.94,91.98 414.56,94.38 417.32,94.38" fill="#78a83a"/>
<polygon points="418.77,93.34 417.39,95.74 420.15,95.74" fill="#78a83a"/>
<polygon points="421.30,94.56 419.92,96.96 422.68,96.96" fill="#78a83a"/>
<polygon points="431.05,99.46 429.67,101.86 432.43,101.86" fill="#78a83a"/>
<polygon points="437.96,102.06 436.58,104.46 439.34,104.46" fill="#78a83a"/>
<polygon points="447.71,108.56 446.33,110.96 449.09,110.96" fill="#78a83a"/>
<polygon points="454.62,111.56 453.24,113.96 456.00,113.96" fill="#78a83a"/>
<polygon points="293.94,37.42 292.39,34.72 295.49,34.72" fill="#16168a"/>
<polygon points="298.32,39.31 296.77,36.61 299.87,36.61" fill="#16168a"/>
<polygon points="302.03,40.92 300.47,38.22 303.58,38.22" fill="#16168a"/>
<polygon points="305.24,42.30 303.68,39.60 306.79,39.60" fill="#16168a"/>
<polygon points="308.07,43.53 306.51,40.83 309.62,40.83" fill="#16168a"/>
<polygon points="310.60,44.62 309.05,41.92 312.15,41.92" fill="#16168a"/>
<polygon points="320.35,49.02 318.79,46.32 321.90,46.32" fill="#16168a"/>
<polygon points="327.26,51.22 325.71,48.52 328.81,48.52" fill="#16168a"/>
<polygon points="337.01,55.22 335.46,52.52 338.56,52.52" fill="#16168a"/>
<polygon points="343.92,58.52 342.37,55.82 345.48,55.82" fill="#16168a"/>
<polygon points="349.29,60.72 347.74,58.02 350.84,58.02" fill="#16168a"/>
<polygon points="353.67,62.12 352.12,59.42 355.22,59.42" fill="#16168a"/>
<polygon points="357.38,63.92 355.82,61.22 358.93,61.22" fill="#16168a"/>
<polygon points="360.59,65.22 359.03,62.52 362.14,62.52" fill="#16168a"/>
<polygon points="363.42,66.12 361.86,63.42 364.97,63.42" fill="#16168a"/>
<polygon points="365.95,67.62 364.40,64.92 367.50,64.92" fill="#16168a"/>
<polygon points="375.70,71.92 374.14,69.22 377.25,69.22" fill="#16168a"/>
<polygon points="382.61,74.82 381.06,72.12 384.16,72.12" fill="#16168a"/>
<polygon points="392.36,78.82 390.81,76.12 393.91,76.12" fill="#16168a"/>
<polygon points="399.27,82.82 397.72,80.12 400.83,80.12" fill="#16168a"/>
<polygon points="404.64,84.42 403.09,81.72 406.19,81.72" fill="#16168a"/>
<polygon points="409.02,85.92 407.47,83.22 410.57,83.22" fill="#16168a"/>
<polygon points="412.73,88.62 411.17,85.92 414.28,85.92" fill="#16168a"/>
<polygon points="415.94,90.92 414.38,88.22 417.49,88.22" fill="#16168a"/>
<polygon points="418.77,89.92 417.21,87.22 420.32,87.22" fill="#16168a"/>
<polygon points="421.30,90.62 419.75,87.92 422.85,87.92" fill="#16168a"/>
<polygon points="431.05,98.62 429.49,95.92 432.60,95.92" fill="#16168a"/>
<polygon points="437.96,101.42 436.41,98.72 439.51,98.72" fill="#16168a"/>
<polygon points="447.71,104.62 446.16,101.92 449.26,101.92" fill="#16168a"/>
<polygon points="454.62,113.32 453.07,110.62 456.18,110.62" fill="#16168a"/>
<circle cx="293.94" cy="17.10" r="1.20" fill="#5a32a0"/>
<circle cx="298.32" cy="19.00" r="1.20" fill="#5a32a0"/>
<circle cx="302.03" cy="20.90" r="1.20" fill="#5a32a0"/>
<circle cx="305.24" cy="22.50" r="1.20" fill="#5a32a0"/>
<circle cx="308.07" cy="24.10" r="1.20" fill="#5a32a0"/>
<circle cx="310.60" cy="25.60" r="1.20" fill="#5a32a0"/>
<circle cx="320.35" cy="30.10" r="1.20" fill="#5a32a0"/>
<circle cx="327.26" cy="33.60" r="1.20" fill="#5a32a0"/>
<circle cx="337.01" cy="38.50" r="1.20" fill="#5a32a0"/>
<circle cx="343.92" cy="42.30" r="1.20" fill="#5a32a0"/>
<circle cx="349.29" cy="44.60" r="1.20" fill="#5a32a0"/>
<circle cx="353.67" cy="46.50" r="1.20" fill="#5a32a0"/>
<circle cx="357.38" cy="48.80" r="1.20" fill="#5a32a0"/>
<circle cx="360.59" cy="50.30" r="1.20" fill="#5a32a0"/>
<circle cx="363.42" cy="51.60" r="1.20" fill="#5a32a0"/>
<circle cx="365.95" cy="53.20" r="1.20" fill="#5a32a0"/>
<circle cx="375.70" cy="58.10" r="1.20" fill="#5a32a0"/>
<circle cx="382.61" cy="60.50" r="1.20" fill="#5a32a0"/>
<circle cx="392.36" cy="67.00" r="1.20" fill="#5a32a0"/>
<circle cx="399.27" cy="70.00" r="1.20" fill="#5a32a0"/>
<circle cx="404.64" cy="72.50" r="1.20" fill="#5a32a0"/>
<circle cx="409.02" cy="74.80" r="1.20" fill="#5a32a0"/>
<circle cx="412.73" cy="77.00" r="1.20" fill="#5a32a0"/>
<circle cx="415.94" cy="78.30" r="1.20" fill="#5a32a0"/>
<circle cx="418.77" cy="81.70" r="1.20" fill="#5a32a0"/>
<circle cx="421.30" cy="81.70" r="1.20" fill="#5a32a0"/>
<circle cx="431.05" cy="88.30" r="1.20" fill="#5a32a0"/>
<circle cx="437.96" cy="87.20" r="1.20" fill="#5a32a0"/>
<circle cx="447.71" cy="93.70" r="1.20" fill="#5a32a0"/>
<circle cx="454.62" cy="101.30" r="1.20" fill="#5a32a0"/>
<path d="M291.5,3.1H457.5V117.2" fill="none" stroke="#bdbdbd" stroke-width="0.9"/>
<path d="M291.5,3.1V117.2H457.5" fill="none" stroke="#808080" stroke-width="1"/>
<line x1="310.60" y1="117.2" x2="310.60" y2="119.2" stroke="#808080" stroke-width="0.8"/>
<text x="310.60" y="125" class="tk xk" text-anchor="middle">0.1</text>
<line x1="365.95" y1="117.2" x2="365.95" y2="119.2" stroke="#808080" stroke-width="0.8"/>
<text x="365.95" y="125" class="tk xk" text-anchor="middle">1</text>
<line x1="421.30" y1="117.2" x2="421.30" y2="119.2" stroke="#808080" stroke-width="0.8"/>
<text x="421.30" y="125" class="tk xk" text-anchor="middle">10</text>
<line x1="291.5" y1="10.9" x2="289.5" y2="10.9" stroke="#808080" stroke-width="0.8"/>
<text x="279.0" y="13.05" class="tk">10<tspan class="sup" dy="-2.4">6</tspan></text>
<line x1="291.5" y1="49" x2="289.5" y2="49" stroke="#808080" stroke-width="0.8"/>
<text x="279.0" y="51.10" class="tk">10<tspan class="sup" dy="-2.4">5</tspan></text>
<line x1="291.5" y1="87.2" x2="289.5" y2="87.2" stroke="#808080" stroke-width="0.8"/>
<text x="279.0" y="89.30" class="tk">10<tspan class="sup" dy="-2.4">4</tspan></text>
<text x="349.7" y="133" class="ttl">Frequency (Hz)</text>
<text transform="translate(273.8,58.8) rotate(-90)" class="ttl yt" style="font-size:6.5px" text-anchor="middle">Complex Viscosity (η* Pa s)</text>
<text x="465" y="124" class="lab">c</text>
<rect x="295" y="83.2" width="42.69999999999999" height="31.0" fill="#fff" stroke="#aaa" stroke-width="0.7"/>
<line x1="298" y1="88.10" x2="310" y2="88.10" stroke="#f4d4dc" stroke-width="0.6"/>
<circle cx="304.40" cy="88.10" r="1.50" fill="#000"/>
<text x="312" y="89.90" class="lg" style="font-size:5.3px">30/70(0)</text>
<line x1="298" y1="93.70" x2="310" y2="93.70" stroke="#f0dcc8" stroke-width="0.6"/>
<circle cx="304.40" cy="93.70" r="1.50" fill="#4a3c18"/>
<text x="312" y="95.50" class="lg" style="font-size:5.3px">30/70(1)</text>
<line x1="298" y1="99.30" x2="310" y2="99.30" stroke="#dcefc8" stroke-width="0.6"/>
<polygon points="304.40,97.50 302.67,100.50 306.12,100.50" fill="#78a83a"/>
<text x="312" y="101.10" class="lg" style="font-size:5.3px">30/70(2)</text>
<line x1="298" y1="104.90" x2="310" y2="104.90" stroke="#d8dcf6" stroke-width="0.6"/>
<polygon points="304.40,106.92 302.46,103.55 306.34,103.55" fill="#16168a"/>
<text x="312" y="106.70" class="lg" style="font-size:5.3px">30/70(5)</text>
<line x1="298" y1="110.50" x2="310" y2="110.50" stroke="#f6d0f2" stroke-width="0.6"/>
<circle cx="304.40" cy="110.50" r="1.50" fill="#5a32a0"/>
<text x="312" y="112.30" class="lg" style="font-size:5.3px">30/70(10)</text>
<rect x="175" y="150.5" width="17" height="9" fill="#fce4f8"/>
<rect x="175" y="159.5" width="17" height="3.6" fill="#dbf7fb"/>
<rect x="175" y="163.1" width="17" height="2.6" fill="#e4f6d6"/>
<rect x="175" y="165.7" width="17" height="2" fill="#f8f4ec"/>
<rect x="175" y="167.5" width="17" height="5" fill="#fde9dc"/>
<rect x="175" y="172.5" width="17" height="3" fill="#fbeef4"/>
<polyline points="171.50,172.60 176.00,173.92 179.80,175.03 183.10,175.99 186.00,176.84 188.60,177.60 198.60,180.30 205.70,182.70 215.70,185.80 222.80,188.00 228.30,189.66 232.80,191.01 236.60,192.15 239.90,193.14 242.80,194.02 245.40,194.80 255.40,198.60 262.50,201.30 272.50,204.60 279.60,208.70 285.10,210.96 289.60,212.82 293.40,214.38 296.70,215.74 299.60,216.93 302.20,218.00 312.20,222.40 319.30,226.00 329.30,230.60 336.40,235.50" fill="none" stroke="#f6d8e0" stroke-width="0.6"/>
<polyline points="171.50,166.60 176.00,167.60 179.80,168.44 183.10,169.18 186.00,169.82 188.60,170.40 198.60,174.00 205.70,175.80 215.70,178.50 222.80,180.50 228.30,182.28 232.80,183.73 236.60,184.96 239.90,186.02 242.80,186.96 245.40,187.80 255.40,192.25 262.50,195.40 272.50,200.26 279.60,203.70 285.10,205.96 289.60,207.82 293.40,209.38 296.70,210.74 299.60,211.93 302.20,213.00 312.20,218.00 319.30,221.80 329.30,224.60 336.40,230.90" fill="none" stroke="#f6e4c8" stroke-width="0.6"/>
<polyline points="171.50,161.90 176.00,162.93 179.80,163.79 183.10,164.54 186.00,165.21 188.60,165.80 198.60,170.40 205.70,172.20 215.70,175.50 222.80,177.40 228.30,179.25 232.80,180.76 236.60,182.04 239.90,183.15 242.80,184.13 245.40,185.00 255.40,189.45 262.50,192.60 272.50,197.00 279.60,201.00 285.10,203.02 289.60,204.67 293.40,206.07 296.70,207.28 299.60,208.35 302.20,209.30 312.20,216.30 319.30,220.30 329.30,223.50 336.40,229.50" fill="none" stroke="#ecf4d0" stroke-width="0.6"/>
<polyline points="171.50,158.40 176.00,159.64 179.80,160.68 183.10,161.59 186.00,162.39 188.60,163.10 198.60,167.10 205.70,169.50 215.70,172.00 222.80,173.50 228.30,175.76 232.80,177.62 236.60,179.18 239.90,180.54 242.80,181.73 245.40,182.80 255.40,186.60 262.50,189.30 272.50,193.70 279.60,196.50 285.10,198.66 289.60,200.44 293.40,201.93 296.70,203.23 299.60,204.38 302.20,205.40 312.20,212.30 319.30,215.60 329.30,220.80 336.40,225.80" fill="none" stroke="#d4d8f8" stroke-width="0.6"/>
<polyline points="171.50,152.90 176.00,154.40 179.80,155.67 183.10,156.77 186.00,157.73 188.60,158.60 198.60,163.10 205.70,165.30 215.70,169.00 222.80,171.00 228.30,173.36 232.80,175.29 236.60,176.92 239.90,178.34 242.80,179.58 245.40,180.70 255.40,184.50 262.50,187.20 272.50,191.50 279.60,195.70 285.10,197.65 289.60,199.24 293.40,200.59 296.70,201.75 299.60,202.78 302.20,203.70 312.20,210.70 319.30,214.30 329.30,219.50 336.40,224.40" fill="none" stroke="#ecdcfa" stroke-width="0.6"/>
<circle cx="171.50" cy="172.60" r="1.15" fill="#000"/>
<circle cx="176.00" cy="173.92" r="1.15" fill="#000"/>
<circle cx="179.80" cy="175.03" r="1.15" fill="#000"/>
<circle cx="183.10" cy="175.99" r="1.15" fill="#000"/>
<circle cx="186.00" cy="176.84" r="1.15" fill="#000"/>
<circle cx="188.60" cy="177.60" r="1.15" fill="#000"/>
<circle cx="198.60" cy="180.30" r="1.15" fill="#000"/>
<circle cx="205.70" cy="182.70" r="1.15" fill="#000"/>
<circle cx="215.70" cy="185.80" r="1.15" fill="#000"/>
<circle cx="222.80" cy="188.00" r="1.15" fill="#000"/>
<circle cx="228.30" cy="189.66" r="1.15" fill="#000"/>
<circle cx="232.80" cy="191.01" r="1.15" fill="#000"/>
<circle cx="236.60" cy="192.15" r="1.15" fill="#000"/>
<circle cx="239.90" cy="193.14" r="1.15" fill="#000"/>
<circle cx="242.80" cy="194.02" r="1.15" fill="#000"/>
<circle cx="245.40" cy="194.80" r="1.15" fill="#000"/>
<circle cx="255.40" cy="198.60" r="1.15" fill="#000"/>
<circle cx="262.50" cy="201.30" r="1.15" fill="#000"/>
<circle cx="272.50" cy="204.60" r="1.15" fill="#000"/>
<circle cx="279.60" cy="208.70" r="1.15" fill="#000"/>
<circle cx="285.10" cy="210.96" r="1.15" fill="#000"/>
<circle cx="289.60" cy="212.82" r="1.15" fill="#000"/>
<circle cx="293.40" cy="214.38" r="1.15" fill="#000"/>
<circle cx="296.70" cy="215.74" r="1.15" fill="#000"/>
<circle cx="299.60" cy="216.93" r="1.15" fill="#000"/>
<circle cx="302.20" cy="218.00" r="1.15" fill="#000"/>
<circle cx="312.20" cy="222.40" r="1.15" fill="#000"/>
<circle cx="319.30" cy="226.00" r="1.15" fill="#000"/>
<circle cx="329.30" cy="230.60" r="1.15" fill="#000"/>
<circle cx="336.40" cy="235.50" r="1.15" fill="#000"/>
<circle cx="171.50" cy="166.60" r="1.20" fill="#6a4e14"/>
<circle cx="176.00" cy="167.60" r="1.20" fill="#6a4e14"/>
<circle cx="179.80" cy="168.44" r="1.20" fill="#6a4e14"/>
<circle cx="183.10" cy="169.18" r="1.20" fill="#6a4e14"/>
<circle cx="186.00" cy="169.82" r="1.20" fill="#6a4e14"/>
<circle cx="188.60" cy="170.40" r="1.20" fill="#6a4e14"/>
<circle cx="198.60" cy="174.00" r="1.20" fill="#6a4e14"/>
<circle cx="205.70" cy="175.80" r="1.20" fill="#6a4e14"/>
<circle cx="215.70" cy="178.50" r="1.20" fill="#6a4e14"/>
<circle cx="222.80" cy="180.50" r="1.20" fill="#6a4e14"/>
<circle cx="228.30" cy="182.28" r="1.20" fill="#6a4e14"/>
<circle cx="232.80" cy="183.73" r="1.20" fill="#6a4e14"/>
<circle cx="236.60" cy="184.96" r="1.20" fill="#6a4e14"/>
<circle cx="239.90" cy="186.02" r="1.20" fill="#6a4e14"/>
<circle cx="242.80" cy="186.96" r="1.20" fill="#6a4e14"/>
<circle cx="245.40" cy="187.80" r="1.20" fill="#6a4e14"/>
<circle cx="255.40" cy="192.25" r="1.20" fill="#6a4e14"/>
<circle cx="262.50" cy="195.40" r="1.20" fill="#6a4e14"/>
<circle cx="272.50" cy="200.26" r="1.20" fill="#6a4e14"/>
<circle cx="279.60" cy="203.70" r="1.20" fill="#6a4e14"/>
<circle cx="285.10" cy="205.96" r="1.20" fill="#6a4e14"/>
<circle cx="289.60" cy="207.82" r="1.20" fill="#6a4e14"/>
<circle cx="293.40" cy="209.38" r="1.20" fill="#6a4e14"/>
<circle cx="296.70" cy="210.74" r="1.20" fill="#6a4e14"/>
<circle cx="299.60" cy="211.93" r="1.20" fill="#6a4e14"/>
<circle cx="302.20" cy="213.00" r="1.20" fill="#6a4e14"/>
<circle cx="312.20" cy="218.00" r="1.20" fill="#6a4e14"/>
<circle cx="319.30" cy="221.80" r="1.20" fill="#6a4e14"/>
<circle cx="329.30" cy="224.60" r="1.20" fill="#6a4e14"/>
<circle cx="336.40" cy="230.90" r="1.20" fill="#6a4e14"/>
<polygon points="171.50,160.46 170.12,162.86 172.88,162.86" fill="#a8b840"/>
<polygon points="176.00,161.49 174.62,163.89 177.38,163.89" fill="#a8b840"/>
<polygon points="179.80,162.35 178.42,164.75 181.18,164.75" fill="#a8b840"/>
<polygon points="183.10,163.10 181.72,165.50 184.48,165.50" fill="#a8b840"/>
<polygon points="186.00,163.77 184.62,166.17 187.38,166.17" fill="#a8b840"/>
<polygon points="188.60,164.36 187.22,166.76 189.98,166.76" fill="#a8b840"/>
<polygon points="198.60,168.96 197.22,171.36 199.98,171.36" fill="#a8b840"/>
<polygon points="205.70,170.76 204.32,173.16 207.08,173.16" fill="#a8b840"/>
<polygon points="215.70,174.06 214.32,176.46 217.08,176.46" fill="#a8b840"/>
<polygon points="222.80,175.96 221.42,178.36 224.18,178.36" fill="#a8b840"/>
<polygon points="228.30,177.81 226.92,180.21 229.68,180.21" fill="#a8b840"/>
<polygon points="232.80,179.32 231.42,181.72 234.18,181.72" fill="#a8b840"/>
<polygon points="236.60,180.60 235.22,183.00 237.98,183.00" fill="#a8b840"/>
<polygon points="239.90,181.71 238.52,184.11 241.28,184.11" fill="#a8b840"/>
<polygon points="242.80,182.69 241.42,185.09 244.18,185.09" fill="#a8b840"/>
<polygon points="245.40,183.56 244.02,185.96 246.78,185.96" fill="#a8b840"/>
<polygon points="255.40,188.01 254.02,190.41 256.78,190.41" fill="#a8b840"/>
<polygon points="262.50,191.16 261.12,193.56 263.88,193.56" fill="#a8b840"/>
<polygon points="272.50,195.56 271.12,197.96 273.88,197.96" fill="#a8b840"/>
<polygon points="279.60,199.56 278.22,201.96 280.98,201.96" fill="#a8b840"/>
<polygon points="285.10,201.58 283.72,203.98 286.48,203.98" fill="#a8b840"/>
<polygon points="289.60,203.23 288.22,205.63 290.98,205.63" fill="#a8b840"/>
<polygon points="293.40,204.63 292.02,207.03 294.78,207.03" fill="#a8b840"/>
<polygon points="296.70,205.84 295.32,208.24 298.08,208.24" fill="#a8b840"/>
<polygon points="299.60,206.91 298.22,209.31 300.98,209.31" fill="#a8b840"/>
<polygon points="302.20,207.86 300.82,210.26 303.58,210.26" fill="#a8b840"/>
<polygon points="312.20,214.86 310.82,217.26 313.58,217.26" fill="#a8b840"/>
<polygon points="319.30,218.86 317.92,221.26 320.68,221.26" fill="#a8b840"/>
<polygon points="329.30,222.06 327.92,224.46 330.68,224.46" fill="#a8b840"/>
<polygon points="336.40,228.06 335.02,230.46 337.78,230.46" fill="#a8b840"/>
<polygon points="171.50,159.96 170.01,157.36 173.00,157.36" fill="#2424b4"/>
<polygon points="176.00,161.20 174.50,158.60 177.49,158.60" fill="#2424b4"/>
<polygon points="179.80,162.24 178.31,159.64 181.30,159.64" fill="#2424b4"/>
<polygon points="183.10,163.15 181.60,160.55 184.59,160.55" fill="#2424b4"/>
<polygon points="186.00,163.95 184.51,161.35 187.50,161.35" fill="#2424b4"/>
<polygon points="188.60,164.66 187.10,162.06 190.09,162.06" fill="#2424b4"/>
<polygon points="198.60,168.66 197.11,166.06 200.10,166.06" fill="#2424b4"/>
<polygon points="205.70,171.06 204.20,168.46 207.19,168.46" fill="#2424b4"/>
<polygon points="215.70,173.56 214.21,170.96 217.20,170.96" fill="#2424b4"/>
<polygon points="222.80,175.06 221.30,172.46 224.29,172.46" fill="#2424b4"/>
<polygon points="228.30,177.32 226.81,174.72 229.80,174.72" fill="#2424b4"/>
<polygon points="232.80,179.18 231.30,176.58 234.29,176.58" fill="#2424b4"/>
<polygon points="236.60,180.74 235.11,178.14 238.10,178.14" fill="#2424b4"/>
<polygon points="239.90,182.10 238.40,179.50 241.39,179.50" fill="#2424b4"/>
<polygon points="242.80,183.29 241.31,180.69 244.30,180.69" fill="#2424b4"/>
<polygon points="245.40,184.36 243.90,181.76 246.89,181.76" fill="#2424b4"/>
<polygon points="255.40,188.16 253.91,185.56 256.90,185.56" fill="#2424b4"/>
<polygon points="262.50,190.86 261.00,188.26 263.99,188.26" fill="#2424b4"/>
<polygon points="272.50,195.26 271.01,192.66 274.00,192.66" fill="#2424b4"/>
<polygon points="279.60,198.06 278.10,195.46 281.09,195.46" fill="#2424b4"/>
<polygon points="285.10,200.22 283.61,197.62 286.60,197.62" fill="#2424b4"/>
<polygon points="289.60,202.00 288.10,199.40 291.09,199.40" fill="#2424b4"/>
<polygon points="293.40,203.49 291.91,200.89 294.90,200.89" fill="#2424b4"/>
<polygon points="296.70,204.79 295.20,202.19 298.19,202.19" fill="#2424b4"/>
<polygon points="299.60,205.94 298.11,203.34 301.10,203.34" fill="#2424b4"/>
<polygon points="302.20,206.96 300.70,204.36 303.69,204.36" fill="#2424b4"/>
<polygon points="312.20,213.86 310.71,211.26 313.70,211.26" fill="#2424b4"/>
<polygon points="319.30,217.16 317.80,214.56 320.79,214.56" fill="#2424b4"/>
<polygon points="329.30,222.36 327.81,219.76 330.80,219.76" fill="#2424b4"/>
<polygon points="336.40,227.36 334.90,224.76 337.89,224.76" fill="#2424b4"/>
<circle cx="171.50" cy="152.90" r="1.20" fill="#8048e0"/>
<circle cx="176.00" cy="154.40" r="1.20" fill="#8048e0"/>
<circle cx="179.80" cy="155.67" r="1.20" fill="#8048e0"/>
<circle cx="183.10" cy="156.77" r="1.20" fill="#8048e0"/>
<circle cx="186.00" cy="157.73" r="1.20" fill="#8048e0"/>
<circle cx="188.60" cy="158.60" r="1.20" fill="#8048e0"/>
<circle cx="198.60" cy="163.10" r="1.20" fill="#8048e0"/>
<circle cx="205.70" cy="165.30" r="1.20" fill="#8048e0"/>
<circle cx="215.70" cy="169.00" r="1.20" fill="#8048e0"/>
<circle cx="222.80" cy="171.00" r="1.20" fill="#8048e0"/>
<circle cx="228.30" cy="173.36" r="1.20" fill="#8048e0"/>
<circle cx="232.80" cy="175.29" r="1.20" fill="#8048e0"/>
<circle cx="236.60" cy="176.92" r="1.20" fill="#8048e0"/>
<circle cx="239.90" cy="178.34" r="1.20" fill="#8048e0"/>
<circle cx="242.80" cy="179.58" r="1.20" fill="#8048e0"/>
<circle cx="245.40" cy="180.70" r="1.20" fill="#8048e0"/>
<circle cx="255.40" cy="184.50" r="1.20" fill="#8048e0"/>
<circle cx="262.50" cy="187.20" r="1.20" fill="#8048e0"/>
<circle cx="272.50" cy="191.50" r="1.20" fill="#8048e0"/>
<circle cx="279.60" cy="195.70" r="1.20" fill="#8048e0"/>
<circle cx="285.10" cy="197.65" r="1.20" fill="#8048e0"/>
<circle cx="289.60" cy="199.24" r="1.20" fill="#8048e0"/>
<circle cx="293.40" cy="200.59" r="1.20" fill="#8048e0"/>
<circle cx="296.70" cy="201.75" r="1.20" fill="#8048e0"/>
<circle cx="299.60" cy="202.78" r="1.20" fill="#8048e0"/>
<circle cx="302.20" cy="203.70" r="1.20" fill="#8048e0"/>
<circle cx="312.20" cy="210.70" r="1.20" fill="#8048e0"/>
<circle cx="319.30" cy="214.30" r="1.20" fill="#8048e0"/>
<circle cx="329.30" cy="219.50" r="1.20" fill="#8048e0"/>
<circle cx="336.40" cy="224.40" r="1.20" fill="#8048e0"/>
<path d="M169.4,142H339.1V254.4" fill="none" stroke="#9a9a9a" stroke-width="0.9"/>
<path d="M169.4,142V254.4H339.1" fill="none" stroke="#555" stroke-width="1"/>
<line x1="188.60" y1="254.4" x2="188.60" y2="252.4" stroke="#555" stroke-width="0.8"/>
<text x="188.60" y="261.5" class="tk xk" text-anchor="middle">0.1</text>
<line x1="245.40" y1="254.4" x2="245.40" y2="252.4" stroke="#555" stroke-width="0.8"/>
<text x="245.40" y="261.5" class="tk xk" text-anchor="middle">1</text>
<line x1="302.20" y1="254.4" x2="302.20" y2="252.4" stroke="#555" stroke-width="0.8"/>
<text x="302.20" y="261.5" class="tk xk" text-anchor="middle">10</text>
<line x1="169.4" y1="159" x2="171.4" y2="159" stroke="#555" stroke-width="0.8"/>
<text x="158.2" y="161.80" class="tk">10<tspan class="sup" dy="-2.4">5</tspan></text>
<line x1="169.4" y1="197.3" x2="171.4" y2="197.3" stroke="#555" stroke-width="0.8"/>
<text x="158.2" y="199.60" class="tk">10<tspan class="sup" dy="-2.4">4</tspan></text>
<line x1="169.4" y1="235.3" x2="171.4" y2="235.3" stroke="#555" stroke-width="0.8"/>
<text x="158.2" y="237.30" class="tk">10<tspan class="sup" dy="-2.4">3</tspan></text>
<text x="228.3" y="271.4" class="ttl" style="font-size:7.2px">Frequency (Hz)</text>
<text transform="translate(151.1,194) rotate(-90)" class="ttl yt" style="font-size:6.5px" text-anchor="middle">Complex Viscosity (η* Pa s)</text>
<text x="346.5" y="260" class="lab">b</text>
<rect x="296.4" y="142.5" width="41.10000000000002" height="31.69999999999999" fill="#fff" stroke="#aaa" stroke-width="0.7"/>
<line x1="298" y1="147.40" x2="310" y2="147.40" stroke="#f6d8e0" stroke-width="0.6"/>
<circle cx="304.00" cy="147.40" r="1.44" fill="#000"/>
<text x="312.4" y="149.20" class="lg">50/50(0)</text>
<line x1="298" y1="153.05" x2="310" y2="153.05" stroke="#f6e4c8" stroke-width="0.6"/>
<circle cx="304.00" cy="153.05" r="1.50" fill="#6a4e14"/>
<text x="312.4" y="154.85" class="lg">50/50(1)</text>
<line x1="298" y1="158.70" x2="310" y2="158.70" stroke="#ecf4d0" stroke-width="0.6"/>
<polygon points="304.00,156.90 302.27,159.90 305.73,159.90" fill="#a8b840"/>
<text x="312.4" y="160.50" class="lg">50/50(2)</text>
<line x1="298" y1="164.35" x2="310" y2="164.35" stroke="#d4d8f8" stroke-width="0.6"/>
<polygon points="304.00,166.30 302.13,163.05 305.87,163.05" fill="#2424b4"/>
<text x="312.4" y="166.15" class="lg">50/50(5)</text>
<line x1="298" y1="170.00" x2="310" y2="170.00" stroke="#ecdcfa" stroke-width="0.6"/>
<circle cx="304.00" cy="170.00" r="1.50" fill="#8048e0"/>
<text x="312.4" y="171.80" class="lg">50/50(10)</text>
<path d="M113.6,141.5 C112.80,141.93 110.22,143.18 108.80,144.10 C107.38,145.02 106.27,145.85 105.10,147.00 C103.93,148.15 102.82,149.57 101.80,151.00 C100.78,152.43 99.82,154.00 99.00,155.60 C98.18,157.20 97.38,159.03 96.90,160.60 C96.42,162.17 96.15,163.52 96.10,165.00 C96.05,166.48 96.18,168.13 96.60,169.50 C97.02,170.87 97.70,172.08 98.60,173.20 C99.50,174.32 100.72,175.40 102.00,176.20 C103.28,177.00 104.80,177.60 106.30,178.00 C107.80,178.40 109.38,178.62 111.00,178.60 C112.62,178.58 114.30,178.23 116.00,177.90 C117.70,177.57 119.22,177.02 121.20,176.60 C123.18,176.18 126.78,175.60 127.90,175.40 L122.1,167.5 C121.63,167.85 120.65,168.92 119.30,169.60 C117.95,170.28 115.78,171.13 114.00,171.60 C112.22,172.07 110.23,172.43 108.60,172.40 C106.97,172.37 105.38,171.97 104.20,171.40 C103.02,170.83 102.10,170.03 101.50,169.00 C100.90,167.97 100.62,166.47 100.60,165.20 C100.58,163.93 100.95,162.57 101.40,161.40 C101.85,160.23 102.50,159.23 103.30,158.20 C104.10,157.17 105.17,156.20 106.20,155.20 C107.23,154.20 108.33,153.18 109.50,152.20 C110.67,151.22 111.80,150.15 113.20,149.30 C114.60,148.45 117.12,147.47 117.90,147.10 Z" fill="none" stroke="#dcf5f7" stroke-width="2.2"/><path d="M120.4,165.2 L131.1,167.4 L128.7,176.6 Z" fill="none" stroke="#dcf5f7" stroke-width="2.2"/><path d="M113.6,141.5 C112.80,141.93 110.22,143.18 108.80,144.10 C107.38,145.02 106.27,145.85 105.10,147.00 C103.93,148.15 102.82,149.57 101.80,151.00 C100.78,152.43 99.82,154.00 99.00,155.60 C98.18,157.20 97.38,159.03 96.90,160.60 C96.42,162.17 96.15,163.52 96.10,165.00 C96.05,166.48 96.18,168.13 96.60,169.50 C97.02,170.87 97.70,172.08 98.60,173.20 C99.50,174.32 100.72,175.40 102.00,176.20 C103.28,177.00 104.80,177.60 106.30,178.00 C107.80,178.40 109.38,178.62 111.00,178.60 C112.62,178.58 114.30,178.23 116.00,177.90 C117.70,177.57 119.22,177.02 121.20,176.60 C123.18,176.18 126.78,175.60 127.90,175.40 L122.1,167.5 C121.63,167.85 120.65,168.92 119.30,169.60 C117.95,170.28 115.78,171.13 114.00,171.60 C112.22,172.07 110.23,172.43 108.60,172.40 C106.97,172.37 105.38,171.97 104.20,171.40 C103.02,170.83 102.10,170.03 101.50,169.00 C100.90,167.97 100.62,166.47 100.60,165.20 C100.58,163.93 100.95,162.57 101.40,161.40 C101.85,160.23 102.50,159.23 103.30,158.20 C104.10,157.17 105.17,156.20 106.20,155.20 C107.23,154.20 108.33,153.18 109.50,152.20 C110.67,151.22 111.80,150.15 113.20,149.30 C114.60,148.45 117.12,147.47 117.90,147.10 Z" fill="#2a4a82"/><path d="M122.1,167.5 C121.63,167.85 120.65,168.92 119.30,169.60 C117.95,170.28 115.78,171.13 114.00,171.60 C112.22,172.07 110.20,172.40 108.60,172.40 C107.00,172.40 105.10,171.73 104.40,171.60 L103.6,174.2 C104.43,174.40 106.87,175.30 108.60,175.40 C110.33,175.50 112.18,175.17 114.00,174.80 C115.82,174.43 117.67,173.78 119.50,173.20 C121.33,172.62 124.08,171.62 125.00,171.30 Z" fill="#2a5986"/><path d="M120.4,165.2 L131.1,167.4 L128.7,176.6 Z" fill="#215c82"/>
<path d="M357.5,179 C358.15,179.62 359.83,181.60 361.40,182.70 C362.97,183.80 364.93,184.80 366.90,185.60 C368.87,186.40 371.10,187.12 373.20,187.50 C375.30,187.88 377.53,187.98 379.50,187.90 C381.47,187.82 383.33,187.53 385.00,187.00 C386.67,186.47 388.17,185.78 389.50,184.70 C390.83,183.62 392.12,182.12 393.00,180.50 C393.88,178.88 394.45,177.00 394.80,175.00 C395.15,173.00 395.25,170.67 395.10,168.50 C394.95,166.33 394.48,164.02 393.90,162.00 C393.32,159.98 392.32,157.87 391.60,156.40 C390.88,154.93 389.93,153.73 389.60,153.20 L386.4,158.1 C386.77,158.72 387.95,160.40 388.60,161.80 C389.25,163.20 389.97,164.88 390.30,166.50 C390.63,168.12 390.72,169.92 390.60,171.50 C390.48,173.08 390.23,174.65 389.60,176.00 C388.97,177.35 387.88,178.70 386.80,179.60 C385.72,180.50 384.62,181.03 383.10,181.40 C381.58,181.77 379.65,181.95 377.70,181.80 C375.75,181.65 373.35,181.17 371.40,180.50 C369.45,179.83 367.58,178.80 366.00,177.80 C364.42,176.80 362.58,175.05 361.90,174.50 Z" fill="none" stroke="#dcf5f7" stroke-width="2.2"/><path d="M382.9,151.3 L390.8,151.5 L383.3,161.1 Z" fill="none" stroke="#dcf5f7" stroke-width="2.2"/><path d="M357.5,179 C358.15,179.62 359.83,181.60 361.40,182.70 C362.97,183.80 364.93,184.80 366.90,185.60 C368.87,186.40 371.10,187.12 373.20,187.50 C375.30,187.88 377.53,187.98 379.50,187.90 C381.47,187.82 383.33,187.53 385.00,187.00 C386.67,186.47 388.17,185.78 389.50,184.70 C390.83,183.62 392.12,182.12 393.00,180.50 C393.88,178.88 394.45,177.00 394.80,175.00 C395.15,173.00 395.25,170.67 395.10,168.50 C394.95,166.33 394.48,164.02 393.90,162.00 C393.32,159.98 392.32,157.87 391.60,156.40 C390.88,154.93 389.93,153.73 389.60,153.20 L386.4,158.1 C386.77,158.72 387.95,160.40 388.60,161.80 C389.25,163.20 389.97,164.88 390.30,166.50 C390.63,168.12 390.72,169.92 390.60,171.50 C390.48,173.08 390.23,174.65 389.60,176.00 C388.97,177.35 387.88,178.70 386.80,179.60 C385.72,180.50 384.62,181.03 383.10,181.40 C381.58,181.77 379.65,181.95 377.70,181.80 C375.75,181.65 373.35,181.17 371.40,180.50 C369.45,179.83 367.58,178.80 366.00,177.80 C364.42,176.80 362.58,175.05 361.90,174.50 Z" fill="#2a4a82"/><path d="M361.9,174.5 C362.58,175.05 364.42,176.80 366.00,177.80 C367.58,178.80 369.45,179.83 371.40,180.50 C373.35,181.17 376.65,181.58 377.70,181.80 L376.8,184.6 C375.77,184.38 372.63,183.97 370.60,183.30 C368.57,182.63 366.43,181.68 364.60,180.60 C362.77,179.52 360.43,177.43 359.60,176.80 Z" fill="#245880"/><path d="M386.4,158.1 C386.77,158.72 387.95,160.40 388.60,161.80 C389.25,163.20 389.97,164.88 390.30,166.50 C390.63,168.12 390.55,170.67 390.60,171.50 L393,171.5 C392.93,170.58 392.93,167.70 392.60,166.00 C392.27,164.30 391.67,162.90 391.00,161.30 C390.33,159.70 389.00,157.22 388.60,156.40 Z" fill="#2a5284"/><path d="M382.9,151.3 L390.8,151.5 L383.3,161.1 Z" fill="#215c82"/>
</g>
</svg>
</body></html>
